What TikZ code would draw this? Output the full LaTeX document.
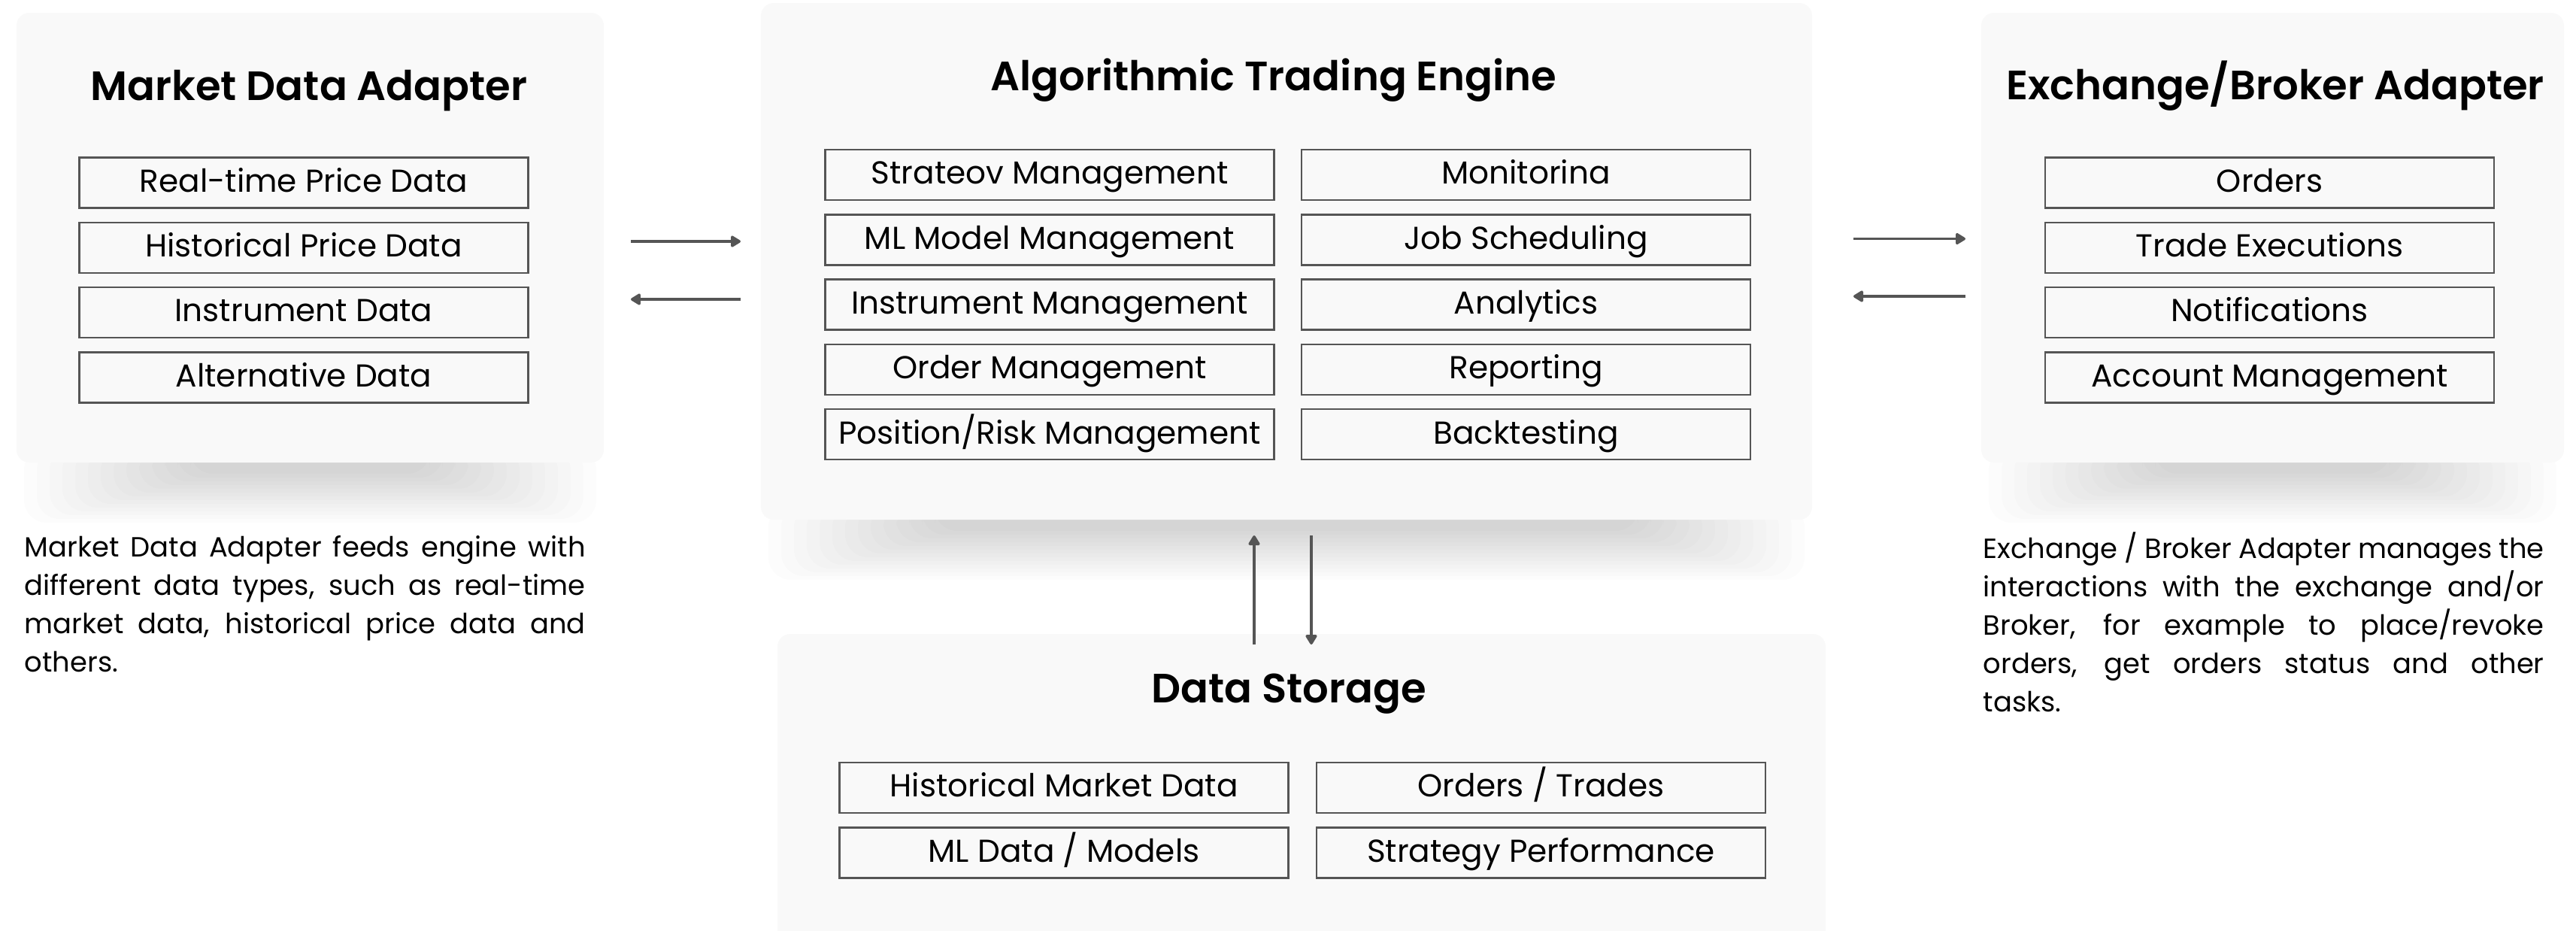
\documentclass[tikz,border=0pt]{standalone}
\usepackage{fontspec}
\setmainfont{Poppins}
\newfontfamily\ttlfont{Poppins}[UprightFont=* SemiBold]
\usepackage{tikz}
\usetikzlibrary{calc,arrows.meta,positioning}

\definecolor{panelfill}{HTML}{F9F9F9}
\definecolor{edgegray}{HTML}{555555}

\newcommand{\panelshadow}[3]{%
	\foreach \k in {0,...,13}
		\fill[black,opacity=0.010,rounded corners=0.3cm]
			({#1+0.1+\k*0.17},{#3+0.2}) rectangle ({#2-0.1-\k*0.17},{#3-0.8+\k*0.05});
}

\begin{document}
\begin{tikzpicture}[
	>={Triangle[length=4.2pt,width=4.8pt,round]},
	panel/.style={fill=panelfill,rounded corners=0.17cm,inner sep=0,outer sep=0},
	item/.style={draw=edgegray,line width=0.7pt,minimum width=5.97cm,minimum height=0.67cm,inner sep=0,outer sep=0,text height=0.95em,text depth=0.25em,font=\fontsize{12}{14}\selectfont},
	ttl/.style={anchor=base,font=\fontsize{15.5}{18}\selectfont\ttlfont},
	flow/.style={->,draw=edgegray,line width=1pt},
	note/.style={anchor=north west,inner sep=0,text width=7.46cm,align=justify,font=\fontsize{10.5}{14.5}\selectfont}
	]
	\def\gap{0.193cm}
	\useasboundingbox (0,0) rectangle (34.26,-12.37);
	\fill[white] (0,0) rectangle (34.26,-12.37);
	
	% soft shadows
	\panelshadow{0.22}{8.03}{-6.15}
	\panelshadow{10.12}{24.10}{-6.91}
	\panelshadow{26.35}{34.10}{-6.15}
	
	\node[panel,minimum width=7.81cm,minimum height=5.98cm] (mda) at (4.125,-3.16) {};
	\node[panel,minimum width=13.98cm,minimum height=6.87cm] (engine) at (17.11,-3.475) {};
	\node[panel,minimum width=7.75cm,minimum height=5.98cm] (eba) at (30.225,-3.16) {};
	\node[panel,minimum width=13.94cm,minimum height=4.24cm] (store) at (17.31,-10.55) {};
	
	\node[ttl] (mdattl) at (4.11,-1.33) {Market Data Adapter};
	\node[ttl] (enginettl) at (16.94,-1.205) {Algorithmic Trading Engine};
	\node[ttl] (ebattl) at (30.26,-1.32) {Exchange/Broker Adapter};
	\node[ttl] (storettl) at (17.14,-9.34) {Data Storage};
	
	% market data adapter
	\node[item] (rtp) at (4.04,-2.43) {Real-time Price Data};
	\node[item,below=\gap of rtp] (hpd) {Historical Price Data};
	\node[item,below=\gap of hpd] (insd) {Instrument Data};
	\node[item,below=\gap of insd] (altd) {Alternative Data};
	
	% engine
	\node[item] (strat) at (13.96,-2.325) {Strateov Management};
	\node[item,below=\gap of strat] (mlm) {ML Model Management};
	\node[item,below=\gap of mlm] (instm) {Instrument Management};
	\node[item,below=\gap of instm] (ordm) {Order Management};
	\node[item,below=\gap of ordm] (posm) {Position/Risk Management};
	\node[item] (mon) at (20.295,-2.325) {Monitorina};
	\node[item,below=\gap of mon] (jobs) {Job Scheduling};
	\node[item,below=\gap of jobs] (anly) {Analytics};
	\node[item,below=\gap of anly] (rept) {Reporting};
	\node[item,below=\gap of rept] (bkt) {Backtesting};
	
	% exchange / broker adapter
	\node[item] (ords) at (30.185,-2.43) {Orders};
	\node[item,below=\gap of ords] (trex) {Trade Executions};
	\node[item,below=\gap of trex] (notif) {Notifications};
	\node[item,below=\gap of notif] (acct) {Account Management};
	
	% data storage
	\node[item] (hmd) at (14.15,-10.475) {Historical Market Data};
	\node[item,below=\gap of hmd] (mldm) {ML Data / Models};
	\node[item] (ortr) at (20.495,-10.475) {Orders / Trades};
	\node[item,below=\gap of ortr] (stperf) {Strategy Performance};
	
	\draw[flow,shorten <=0.36cm,shorten >=0.27cm] (mda.east |- 0,-3.21) -- (engine.west |- 0,-3.21);
	\draw[flow,shorten <=0.27cm,shorten >=0.36cm] (engine.west |- 0,-3.98) -- (mda.east |- 0,-3.98);
	\draw[flow,shorten <=0.55cm,shorten >=0.21cm] (engine.east |- 0,-3.175) -- (eba.west |- 0,-3.175);
	\draw[flow,shorten <=0.21cm,shorten >=0.55cm] (eba.west |- 0,-3.94) -- (engine.east |- 0,-3.94);
	\draw[flow,shorten <=-0.14cm,shorten >=0.21cm] (store.north -| 16.68,0) -- (engine.south -| 16.68,0);
	\draw[flow,shorten <=0.21cm,shorten >=-0.14cm] (engine.south -| 17.44,0) -- (store.north -| 17.44,0);
	
	\node[note] (mdanote) at (0.32,-7.12) {Market Data Adapter feeds engine with\linebreak different data types, such as real-time\linebreak market data, historical price data and\linebreak others.};
	\node[note] (ebanote) at (26.37,-7.07) {Exchange / Broker Adapter manages the\linebreak interactions with the exchange and/or\linebreak Broker, for example to place/revoke\linebreak orders, get orders status and other\linebreak tasks.};
\end{tikzpicture}
\end{document}
